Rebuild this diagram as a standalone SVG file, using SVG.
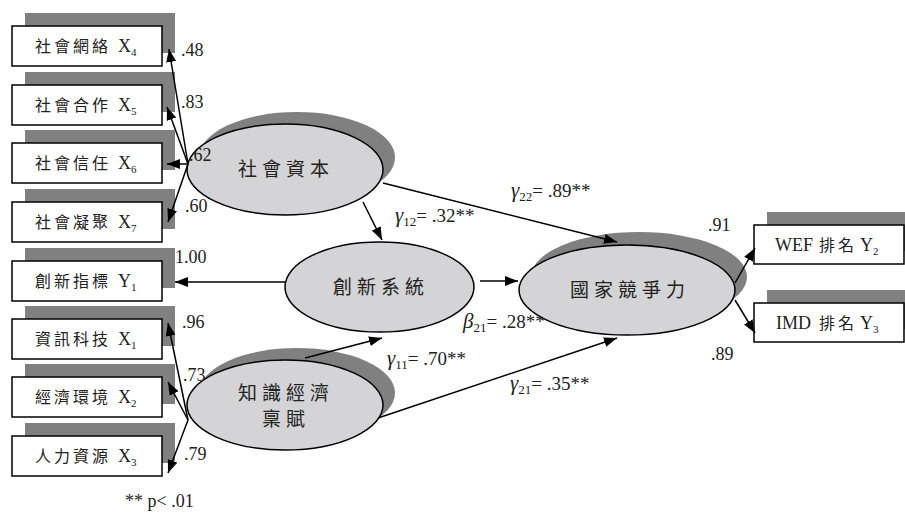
<svg xmlns="http://www.w3.org/2000/svg" width="905" height="513" viewBox="0 0 905 513">
<style>
.sh{fill:#808080;}
.bx{fill:#fff;stroke:#000;stroke-width:1.5;}
.el{fill:#d4d4d6;stroke:#000;stroke-width:1.5;}
.bt{font-family:"Liberation Serif","Noto Sans CJK TC",serif;font-size:18px;fill:#222;}
.cj{font-family:"Noto Sans CJK TC","Liberation Serif",sans-serif;font-size:16px;letter-spacing:3px;}
.sub{font-size:11px;}
.et{font-family:"Noto Sans CJK TC",sans-serif;font-size:19px;letter-spacing:5px;fill:#222;}
.lb{font-family:"Liberation Serif",serif;font-size:18px;fill:#222;}
.gl{font-size:19px;}
.gk{font-style:italic;font-size:21px;}
.gs{font-size:13px;}
.ln{stroke:#000;stroke-width:1.5;fill:none;marker-end:url(#ah);}
</style>
<defs>
<marker id="ah" markerWidth="14" markerHeight="10" refX="13" refY="5" orient="auto" markerUnits="userSpaceOnUse"><path d="M0,0 L13,5 L0,10 z" fill="#000"/></marker>
</defs>
<g id="labels-behind">
<text class="lb gl" x="463" y="328"><tspan class="gk">β</tspan><tspan class="gs" dy="4">21</tspan><tspan dy="-4">= .28**</tspan></text>
</g>
<g id="x4"><rect class="sh" x="25" y="13" width="150" height="40"/><rect class="bx" x="12" y="26" width="150" height="40"/><text class="bt" x="35" y="52"><tspan class="cj">社會網絡</tspan><tspan x="118">X</tspan><tspan class="sub" dy="4">4</tspan></text></g>
<g id="x5"><rect class="sh" x="25" y="72" width="150" height="40"/><rect class="bx" x="12" y="85" width="150" height="40"/><text class="bt" x="35" y="111"><tspan class="cj">社會合作</tspan><tspan x="118">X</tspan><tspan class="sub" dy="4">5</tspan></text></g>
<g id="x6"><rect class="sh" x="25" y="130" width="150" height="40"/><rect class="bx" x="12" y="143" width="150" height="40"/><text class="bt" x="35" y="169"><tspan class="cj">社會信任</tspan><tspan x="118">X</tspan><tspan class="sub" dy="4">6</tspan></text></g>
<g id="x7"><rect class="sh" x="25" y="189" width="150" height="40"/><rect class="bx" x="12" y="202" width="150" height="40"/><text class="bt" x="35" y="228"><tspan class="cj">社會凝聚</tspan><tspan x="118">X</tspan><tspan class="sub" dy="4">7</tspan></text></g>
<g id="y1"><rect class="sh" x="25" y="248" width="150" height="40"/><rect class="bx" x="12" y="261" width="150" height="40"/><text class="bt" x="35" y="287"><tspan class="cj">創新指標</tspan><tspan x="118">Y</tspan><tspan class="sub" dy="4">1</tspan></text></g>
<g id="x1"><rect class="sh" x="25" y="306" width="150" height="40"/><rect class="bx" x="12" y="319" width="150" height="40"/><text class="bt" x="35" y="345"><tspan class="cj">資訊科技</tspan><tspan x="118">X</tspan><tspan class="sub" dy="4">1</tspan></text></g>
<g id="x2"><rect class="sh" x="25" y="364" width="150" height="40"/><rect class="bx" x="12" y="377" width="150" height="40"/><text class="bt" x="35" y="403"><tspan class="cj">經濟環境</tspan><tspan x="118">X</tspan><tspan class="sub" dy="4">2</tspan></text></g>
<g id="x3"><rect class="sh" x="25" y="423" width="150" height="40"/><rect class="bx" x="12" y="436" width="150" height="40"/><text class="bt" x="35" y="462"><tspan class="cj">人力資源</tspan><tspan x="118">X</tspan><tspan class="sub" dy="4">3</tspan></text></g>
<g id="y2"><rect class="sh" x="767" y="212" width="150" height="39"/><rect class="bx" x="754" y="225" width="150" height="39"/><text class="bt" x="775" y="251"><tspan>WEF</tspan><tspan class="cj" x="819">排名</tspan><tspan x="860">Y</tspan><tspan class="sub" dy="4">2</tspan></text></g>
<g id="y3"><rect class="sh" x="767" y="290" width="150" height="39"/><rect class="bx" x="754" y="303" width="150" height="39"/><text class="bt" x="776" y="329"><tspan>IMD</tspan><tspan class="cj" x="819">排名</tspan><tspan x="860">Y</tspan><tspan class="sub" dy="4">3</tspan></text></g>
<g id="social-capital"><ellipse class="sh" cx="297" cy="157.5" rx="98" ry="45.5"/><ellipse class="el" cx="285" cy="169.5" rx="98" ry="45.5"/><text class="et" x="238" y="176">社會資本</text></g>
<g id="innovation"><ellipse class="el" cx="379.5" cy="287" rx="94.5" ry="45"/><text class="et" x="333" y="294">創新系統</text></g>
<g id="knowledge"><ellipse class="sh" cx="297" cy="393" rx="98" ry="45"/><ellipse class="el" cx="285" cy="405" rx="98" ry="45"/><text class="et" x="238" y="400">知識經濟</text><text class="et" x="262" y="426">稟賦</text></g>
<g id="competitiveness"><ellipse class="sh" cx="639" cy="277" rx="108" ry="45"/><ellipse class="el" cx="627" cy="290" rx="108" ry="45"/><text class="et" x="570" y="297">國家競爭力</text></g>
<g id="connectors">
<line class="ln" x1="188" y1="164" x2="169" y2="49"/>
<line class="ln" x1="188" y1="164" x2="167" y2="107"/>
<line class="ln" x1="188" y1="164" x2="167" y2="164"/>
<line class="ln" x1="188" y1="164" x2="168" y2="222"/>
<line class="ln" x1="285" y1="282" x2="175" y2="282"/>
<line class="ln" x1="188" y1="420" x2="168" y2="323"/>
<line class="ln" x1="188" y1="420" x2="168" y2="382"/>
<line class="ln" x1="188" y1="420" x2="168" y2="473"/>
<line class="ln" x1="363" y1="202" x2="382" y2="240"/>
<line class="ln" x1="383" y1="183" x2="617" y2="242"/>
<line class="ln" x1="480" y1="281" x2="518" y2="281"/>
<line class="ln" x1="305" y1="358" x2="382" y2="338"/>
<line class="ln" x1="378" y1="418" x2="617" y2="338"/>
<line class="ln" x1="735" y1="283" x2="755" y2="248"/>
<line class="ln" x1="735" y1="300" x2="755" y2="333"/>
<text class="lb" x="181" y="56">.48</text>
<text class="lb" x="181" y="108">.83</text>
<text class="lb" x="189" y="161">.62</text>
<text class="lb" x="185" y="212">.60</text>
<text class="lb" x="175" y="263">1.00</text>
<text class="lb" x="182" y="328">.96</text>
<text class="lb" x="183" y="381">.73</text>
<text class="lb" x="184" y="460">.79</text>
<text class="lb" x="708" y="231">.91</text>
<text class="lb" x="711" y="360">.89</text>
<text class="lb gl" x="395" y="222"><tspan class="gk">γ</tspan><tspan class="gs" dy="4">12</tspan><tspan dy="-4">= .32**</tspan></text>
<text class="lb gl" x="511" y="197"><tspan class="gk">γ</tspan><tspan class="gs" dy="4">22</tspan><tspan dy="-4">= .89**</tspan></text>
<text class="lb gl" x="387" y="365"><tspan class="gk">γ</tspan><tspan class="gs" dy="4">11</tspan><tspan dy="-4">= .70**</tspan></text>
<text class="lb gl" x="510" y="390"><tspan class="gk">γ</tspan><tspan class="gs" dy="4">21</tspan><tspan dy="-4">= .35**</tspan></text>
<text class="lb" x="125" y="507" style="font-size:18px">** p&lt; .01</text>
</g>
</svg>
